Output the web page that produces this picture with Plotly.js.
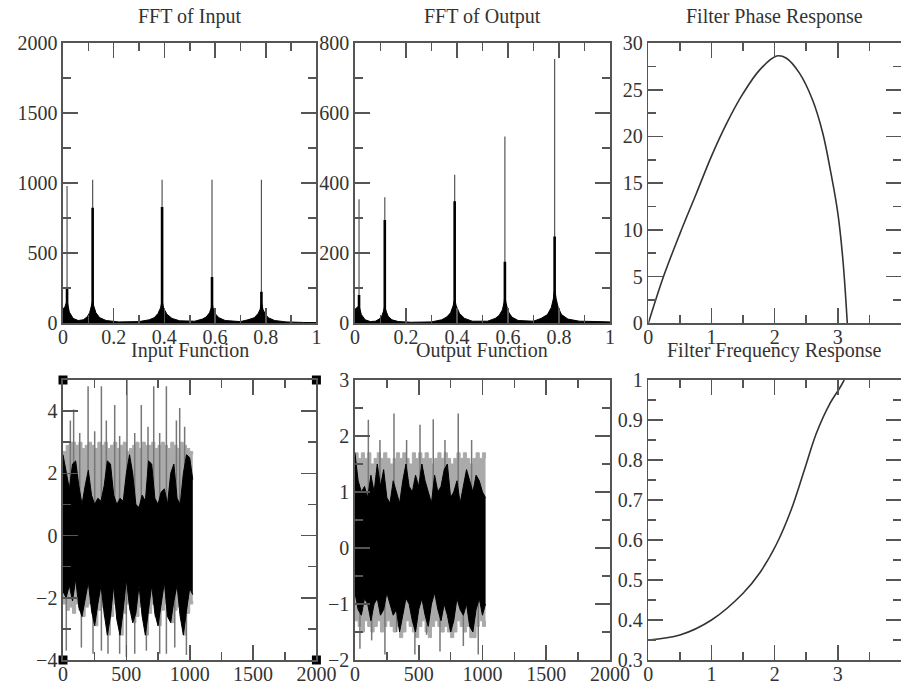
<!DOCTYPE html>
<html>
<head>
<meta charset="utf-8">
<script src="https://cdn.plot.ly/plotly-3.0.1.min.js"></script>
<style>html,body{margin:0;padding:0;background:#fff;}#chart{width:901px;height:685px;}</style>
</head>
<body>
<div id="chart"></div>
<script>
// ---------- FFT panels ----------
const fftPeakX = [0.016, 0.117, 0.391, 0.588, 0.783];
const inPeakTop = [980, 1024, 1024, 1024, 1024];
const inPeakDark = [255, 825, 830, 330, 225];
const outPeakTop = [354, 360, 424, 533, 754];
const outPeakDark = [81, 295, 348, 176, 248];

const fftEnvX = [0, 0.008, 0.016, 0.025, 0.04, 0.06, 0.08, 0.095, 0.105, 0.112, 0.117, 0.122, 0.13, 0.145, 0.17, 0.22, 0.3, 0.34, 0.36, 0.375, 0.385, 0.391, 0.397, 0.41, 0.43, 0.46, 0.52, 0.55, 0.565, 0.578, 0.585, 0.588, 0.592, 0.6, 0.615, 0.64, 0.7, 0.73, 0.755, 0.77, 0.778, 0.783, 0.789, 0.797, 0.81, 0.835, 0.88, 0.95, 1.0];
const inEnv = [100, 120, 160, 80, 35, 20, 25, 45, 75, 120, 160, 120, 75, 40, 20, 10, 12, 25, 40, 70, 110, 160, 110, 65, 35, 18, 15, 30, 45, 75, 110, 150, 110, 70, 40, 20, 12, 25, 40, 70, 100, 150, 100, 70, 40, 20, 10, 6, 5];
const outEnv = [40, 45, 50, 25, 10, 5, 6, 12, 20, 35, 50, 35, 20, 10, 5, 3, 4, 10, 18, 30, 50, 70, 50, 28, 14, 6, 6, 14, 22, 38, 60, 80, 60, 35, 18, 8, 6, 14, 25, 45, 70, 100, 70, 45, 25, 12, 6, 5, 4];

// ---------- time-domain panels ----------
const tX = [0, 25, 50, 75, 100, 125, 150, 175, 200, 225, 250, 275, 300, 325, 350, 375, 400, 425, 450, 475, 500, 525, 550, 575, 600, 625, 650, 675, 700, 725, 750, 775, 800, 825, 850, 875, 900, 925, 950, 975, 1000, 1024];
const inInnerHi = [2.6, 2.1, 1.5, 2.3, 2.4, 1.6, 1.0, 1.6, 2.1, 1.3, 1.0, 1.2, 1.1, 1.6, 2.4, 2.3, 1.3, 1.0, 1.2, 1.1, 2.0, 2.6, 2.0, 1.0, 0.9, 1.3, 1.1, 2.4, 2.3, 1.2, 1.0, 1.4, 1.5, 1.0, 2.0, 2.3, 1.2, 1.0, 2.0, 2.6, 2.5, 1.8];
const inInnerLo = [-1.8, -2.0, -1.6, -2.1, -1.4, -2.3, -2.6, -2.0, -1.5, -2.4, -2.9, -2.2, -1.6, -2.5, -3.2, -2.6, -1.6, -2.7, -3.2, -2.4, -1.4, -2.3, -2.8, -2.5, -1.6, -2.6, -3.2, -2.4, -1.6, -2.5, -2.9, -2.2, -1.5, -2.6, -2.8, -2.1, -1.6, -2.6, -3.2, -2.4, -1.7, -1.9];
const inOuterHi = [2.7, 2.9, 3.0, 3.0, 2.9, 3.0, 2.8, 2.9, 3.0, 2.9, 2.8, 3.0, 2.9, 3.0, 2.8, 2.9, 3.0, 2.8, 2.9, 3.0, 2.7, 2.8, 2.9, 3.0, 2.8, 3.0, 2.9, 2.9, 3.0, 2.8, 2.9, 3.0, 2.9, 2.8, 3.0, 2.9, 2.8, 3.0, 2.9, 2.8, 2.7, 2.6];
const inOuterLo = [-2.2, -2.4, -2.3, -2.5, -2.2, -2.4, -2.6, -2.3, -2.2, -2.5, -2.9, -2.4, -2.3, -2.6, -3.2, -2.6, -2.2, -2.7, -3.2, -2.5, -2.2, -2.4, -2.8, -2.6, -2.3, -2.6, -3.2, -2.5, -2.2, -2.6, -2.9, -2.4, -2.2, -2.6, -2.8, -2.4, -2.3, -2.6, -3.2, -2.5, -2.2, -2.1];
const inUpX = [58, 84, 132, 198, 250, 303, 342, 408, 447, 505, 566, 618, 671, 716, 763, 816, 895, 921, 960];
const inUpY = [3.7, 4.05, 3.3, 4.8, 3.35, 4.8, 3.7, 4.2, 3.2, 5.0, 3.3, 4.2, 3.5, 4.8, 3.3, 4.8, 3.7, 4.1, 3.5];
const inDnX = [26, 145, 237, 303, 355, 447, 500, 566, 658, 763, 816, 882, 974];
const inDnY = [-3.7, -3.6, -3.8, -3.7, -3.8, -3.8, -3.9, -3.8, -3.7, -3.8, -3.8, -3.6, -3.84];

const outInnerHi = [1.7, 1.2, 1.0, 1.1, 0.9, 1.3, 1.0, 1.5, 1.1, 1.4, 0.9, 0.8, 1.2, 1.0, 0.8, 1.2, 1.5, 1.1, 1.0, 1.3, 1.1, 1.5, 1.2, 1.0, 0.8, 1.3, 1.0, 1.1, 1.4, 1.5, 0.9, 1.0, 1.2, 0.8, 1.1, 1.4, 1.2, 1.0, 1.3, 1.2, 1.0, 0.9];
const outInnerLo = [-0.8, -1.1, -1.2, -0.9, -1.0, -1.3, -1.0, -0.9, -1.2, -1.1, -0.8, -1.0, -1.2, -1.1, -1.5, -1.2, -0.9, -1.0, -1.3, -1.5, -1.1, -0.9, -1.2, -1.4, -1.0, -0.8, -1.1, -1.3, -1.0, -1.2, -1.5, -1.3, -0.9, -1.1, -1.2, -1.0, -1.4, -1.5, -1.1, -0.9, -1.2, -1.0];
const outOuterHi = [1.7, 1.6, 1.7, 1.6, 1.7, 1.5, 1.6, 1.7, 1.6, 1.7, 1.6, 1.5, 1.6, 1.7, 1.6, 1.7, 1.6, 1.5, 1.7, 1.6, 1.7, 1.6, 1.7, 1.6, 1.5, 1.6, 1.7, 1.6, 1.7, 1.6, 1.5, 1.6, 1.7, 1.6, 1.7, 1.6, 1.5, 1.6, 1.7, 1.6, 1.7, 1.6];
const outOuterLo = [-1.3, -1.4, -1.5, -1.3, -1.4, -1.5, -1.4, -1.3, -1.5, -1.4, -1.3, -1.4, -1.5, -1.4, -1.6, -1.5, -1.3, -1.4, -1.5, -1.6, -1.4, -1.3, -1.5, -1.6, -1.4, -1.3, -1.4, -1.5, -1.4, -1.5, -1.6, -1.5, -1.3, -1.4, -1.5, -1.4, -1.6, -1.6, -1.4, -1.3, -1.4, -1.3];
const outUpX = [105, 196, 306, 405, 510, 614, 706, 810, 915];
const outUpY = [2.29, 1.93, 2.4, 1.93, 2.2, 2.3, 1.93, 2.4, 1.93];
const outDnX = [39, 131, 235, 327, 470, 562, 667, 758, 850, 967];
const outDnY = [-1.8, -1.65, -1.9, -1.5, -1.9, -1.55, -1.85, -1.5, -1.75, -1.9];

// ---------- filter panels ----------
const phaseX = [0, 0.24, 0.5, 0.76, 1.0, 1.24, 1.5, 1.76, 2.03, 2.18, 2.39, 2.6, 2.76, 2.89, 3.0, 3.08, 3.15];
const phaseY = [0, 5, 9.6, 13.9, 17.9, 21.4, 24.6, 27.1, 28.6, 28.4, 26.8, 23.9, 20.4, 16.1, 11.8, 6.8, 0];
const freqX = [0, 0.5, 1.0, 1.5, 1.76, 2.03, 2.26, 2.47, 2.66, 2.87, 3.03, 3.1];
const freqY = [0.35, 0.3625, 0.40, 0.467, 0.517, 0.59, 0.675, 0.775, 0.867, 0.94, 0.98, 1.0];

// ---------- title text ----------
const titles = ["FFT of Input", "FFT of Output", "Filter Phase Response", "Input Function", "Output Function", "Filter Frequency Response"];

const FONT = "Liberation Serif, Times New Roman, serif";
const AX = '#555';
const traces = [];

function segs(xs, base, tops) {
  const x = [], y = [];
  xs.forEach((v, i) => { x.push(v, v, null); y.push(base, tops[i], null); });
  return {x, y};
}
function fftTraces(xa, ya, env, top, dark) {
  traces.push({x: fftEnvX, y: env, xaxis: xa, yaxis: ya, mode: 'lines', fill: 'tozeroy',
    fillcolor: '#000', line: {color: '#000', width: 1}});
  const t = segs(fftPeakX, 0, top);
  traces.push({x: t.x, y: t.y, xaxis: xa, yaxis: ya, mode: 'lines', line: {color: '#555', width: 1.2}});
  const d = segs(fftPeakX, 0, dark);
  traces.push({x: d.x, y: d.y, xaxis: xa, yaxis: ya, mode: 'lines', line: {color: '#000', width: 2.6}});
}
function timeTraces(xa, ya, oHi, oLo, iHi, iLo, upX, upY, dnX, dnY) {
  traces.push({x: tX, y: oHi, xaxis: xa, yaxis: ya, mode: 'lines', line: {color: '#aaa', width: 1, shape: 'hv'}});
  traces.push({x: tX, y: oLo, xaxis: xa, yaxis: ya, mode: 'lines', fill: 'tonexty', fillcolor: '#aaa', line: {color: '#aaa', width: 1, shape: 'hv'}});
  const u = segs(upX, 0, upY);
  traces.push({x: u.x, y: u.y, xaxis: xa, yaxis: ya, mode: 'lines', line: {color: '#777', width: 1.5}});
  const d = segs(dnX, 0, dnY);
  traces.push({x: d.x, y: d.y, xaxis: xa, yaxis: ya, mode: 'lines', line: {color: '#777', width: 1.5}});
  traces.push({x: tX, y: iHi, xaxis: xa, yaxis: ya, mode: 'lines', line: {color: '#000', width: 1}});
  traces.push({x: tX, y: iLo, xaxis: xa, yaxis: ya, mode: 'lines', fill: 'tonexty', fillcolor: '#000', line: {color: '#000', width: 1}});
}

fftTraces('x', 'y', inEnv, inPeakTop, inPeakDark);
fftTraces('x2', 'y2', outEnv, outPeakTop, outPeakDark);
traces.push({x: phaseX, y: phaseY, xaxis: 'x3', yaxis: 'y3', mode: 'lines', line: {color: '#333', width: 1.6, shape: 'spline'}});
timeTraces('x4', 'y4', inOuterHi, inOuterLo, inInnerHi, inInnerLo, inUpX, inUpY, inDnX, inDnY);
timeTraces('x5', 'y5', outOuterHi, outOuterLo, outInnerHi, outInnerLo, outUpX, outUpY, outDnX, outDnY);
traces.push({x: freqX, y: freqY, xaxis: 'x6', yaxis: 'y6', mode: 'lines', line: {color: '#333', width: 1.6, shape: 'spline'}});
// selection handles at the corners of the Input Function graph
traces.push({x: [0, 2000, 0, 2000], y: [5, 5, -4, -4], xaxis: 'x4', yaxis: 'y4', mode: 'markers',
  marker: {symbol: 'square', size: 9, color: '#000'}, cliponaxis: false});
traces.forEach(t => { t.showlegend = false; t.hoverinfo = 'skip'; });

function axis(dom, range, dtick, minor, anchor, isX) {
  return {domain: dom, range: range, dtick: dtick, tick0: 0, anchor: anchor,
    showgrid: false, zeroline: false, showline: true, linecolor: AX, linewidth: 1.6,
    mirror: 'allticks', ticks: 'inside', ticklen: 15, tickwidth: 1.6, tickcolor: AX,
    ticklabelstandoff: isX ? -5 : 0,
    minor: {dtick: minor, tick0: 0, ticks: 'inside', ticklen: 8, tickwidth: 1.6, tickcolor: AX, showgrid: false},
    tickfont: {family: FONT, size: 20, color: '#333'}, fixedrange: true};
}
const c1 = [0, 0.3024], c2 = [0.3484, 0.6527], c3 = [0.6985, 1.0];
const rTop = [0.5457, 1.0], rBot = [0, 0.4538];

const layout = {
  width: 901, height: 685, margin: {l: 63, r: 0, t: 43, b: 25},
  paper_bgcolor: '#fff', plot_bgcolor: '#fff', showlegend: false,
  xaxis: axis(c1, [0, 1], 0.2, 0.1, 'y', true),
  yaxis: axis(rTop, [0, 2000], 500, 250, 'x'),
  xaxis2: axis(c2, [0, 1], 0.2, 0.1, 'y2', true),
  yaxis2: axis(rTop, [0, 800], 200, 100, 'x2'),
  xaxis3: axis(c3, [0, 4], 1, 0.5, 'y3', true),
  yaxis3: axis(rTop, [0, 30], 5, 2.5, 'x3'),
  xaxis4: axis(c1, [0, 2000], 500, 250, 'y4', true),
  yaxis4: axis(rBot, [-4, 5], 2, 1, 'x4'),
  xaxis5: axis(c2, [0, 2000], 500, 250, 'y5', true),
  yaxis5: axis(rBot, [-2, 3], 1, 0.5, 'x5'),
  xaxis6: axis(c3, [0, 4], 1, 0.5, 'y6', true),
  yaxis6: axis(rBot, [0.3, 1], 0.1, 0.05, 'x6'),
  annotations: titles.map((t, i) => {
    const cols = [c1, c2, c3];
    const col = cols[i % 3];
    return {text: t, xref: 'paper', yref: 'paper', x: (col[0] + col[1]) / 2,
      y: i < 3 ? rTop[1] : rBot[1], xanchor: 'center', yanchor: 'bottom', yshift: i < 3 ? 13 : 16,
      showarrow: false, font: {family: FONT, size: 20, color: '#333'}};
  })
};

Plotly.newPlot('chart', traces, layout, {staticPlot: true, displayModeBar: false});
</script>
</body>
</html>
